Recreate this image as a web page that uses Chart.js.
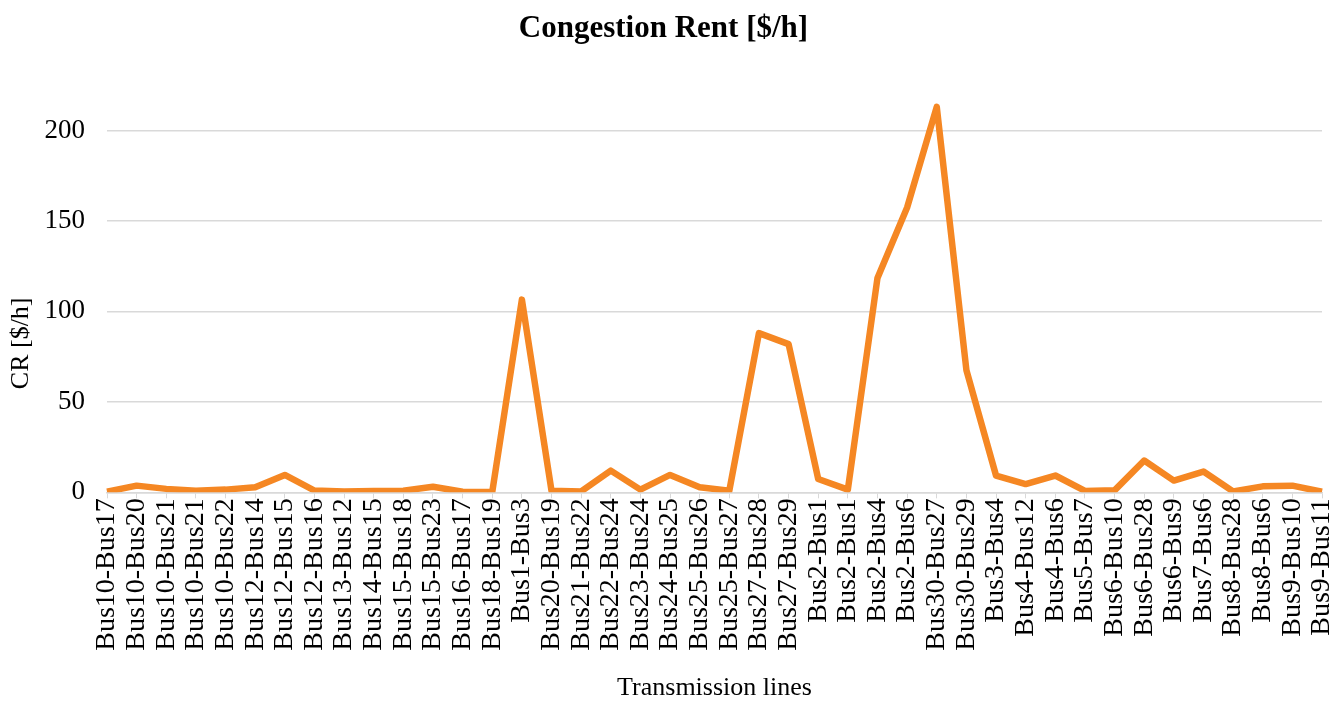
<!DOCTYPE html>
<html>
<head>
<meta charset="utf-8">
<script src="https://cdn.jsdelivr.net/npm/chart.js@4"></script>
<style>
  html, body { margin: 0; padding: 0; background: #fff; }
  #wrap { width: 1343px; height: 704px; }
</style>
</head>
<body>
<div id="wrap"><canvas id="crChart" width="1343" height="704"></canvas></div>
<script>
const LINES = [
  'Bus10-Bus17', 'Bus10-Bus20', 'Bus10-Bus21', 'Bus10-Bus21', 'Bus10-Bus22', 'Bus12-Bus14',
  'Bus12-Bus15', 'Bus12-Bus16', 'Bus13-Bus12', 'Bus14-Bus15', 'Bus15-Bus18', 'Bus15-Bus23',
  'Bus16-Bus17', 'Bus18-Bus19', 'Bus1-Bus3', 'Bus20-Bus19', 'Bus21-Bus22', 'Bus22-Bus24',
  'Bus23-Bus24', 'Bus24-Bus25', 'Bus25-Bus26', 'Bus25-Bus27', 'Bus27-Bus28', 'Bus27-Bus29',
  'Bus2-Bus1', 'Bus2-Bus1', 'Bus2-Bus4', 'Bus2-Bus6', 'Bus30-Bus27', 'Bus30-Bus29',
  'Bus3-Bus4', 'Bus4-Bus12', 'Bus4-Bus6', 'Bus5-Bus7', 'Bus6-Bus10', 'Bus6-Bus28',
  'Bus6-Bus9', 'Bus7-Bus6', 'Bus8-Bus28', 'Bus8-Bus6', 'Bus9-Bus10', 'Bus9-Bus11'
];
const CR = [
  0.4, 3.7, 1.9, 0.9, 1.5, 2.8,
  9.6, 1.0, 0.5, 0.8, 0.9, 3.1,
  0.3, 0.2, 106.5, 0.9, 0.5, 12.0,
  1.5, 9.6, 2.8, 0.9, 88.0, 81.9,
  7.4, 1.5, 118.5, 157.4, 213, 67.6,
  9.3, 4.6, 9.3, 0.8, 1.1, 17.6,
  6.5, 11.5, 0.5, 3.3, 3.7, 0.3
];
const Y_TICKS = [0, 50, 100, 150, 200];

const SERIF = "'Liberation Serif', 'Times New Roman', serif";

// y title sits a bit below the middle of the axis in the original, draw it by hand
const yTitlePlugin = {
  id: 'yTitle',
  afterDraw(chart) {
    const c = chart.ctx;
    const area = chart.chartArea;
    c.save();
    c.translate(21, area.bottom - 149);
    c.rotate(-Math.PI / 2);
    c.font = `26px ${SERIF}`;
    c.fillStyle = '#000';
    c.textAlign = 'center';
    c.textBaseline = 'middle';
    c.fillText('CR [$/h]', 0, 0);
    c.restore();
  }
};

const ctx = document.getElementById('crChart').getContext('2d');
new Chart(ctx, {
  type: 'line',
  data: {
    labels: LINES,
    datasets: [{
      label: 'CR',
      data: CR,
      borderColor: '#F58723',
      borderWidth: 6.5,
      pointRadius: 0,
      tension: 0,
      fill: false,
      borderJoinStyle: 'round'
    }]
  },
  plugins: [yTitlePlugin],
  options: {
    responsive: false,
    animation: false,
    layout: { padding: { left: 5, right: 21, top: 6, bottom: 0 } },
    plugins: {
      legend: { display: false },
      tooltip: { enabled: false },
      title: {
        display: true,
        text: 'Congestion Rent [$/h]',
        color: '#000',
        font: { family: SERIF, size: 31, weight: 'bold' },
        padding: { top: 4, bottom: 38 }
      }
    },
    scales: {
      x: {
        offset: false,
        // rotated labels would otherwise push the plot area inwards
        afterFit: axis => {
          axis.paddingLeft = 0;
          axis.paddingRight = 0;
        },
        grid: {
          drawOnChartArea: false,
          drawTicks: true,
          tickLength: 6,
          color: '#d9d9d9'
        },
        border: { color: '#d9d9d9', width: 1.5 },
        ticks: {
          autoSkip: false,
          minRotation: 90,
          maxRotation: 90,
          color: '#000',
          padding: 0,
          font: { family: SERIF, size: 28 }
        },
        title: {
          display: true,
          text: 'Transmission lines',
          color: '#000',
          font: { family: SERIF, size: 26 },
          padding: { top: 22, bottom: 0 }
        }
      },
      y: {
        min: 0,
        max: 225,
        afterBuildTicks: axis => {
          axis.ticks = Y_TICKS.map(v => ({ value: v }));
        },
        afterFit: axis => {
          axis.width = 102;
        },
        grid: {
          color: '#d9d9d9',
          lineWidth: 1.5,
          drawTicks: false
        },
        border: { display: false },
        ticks: {
          color: '#000',
          padding: 22,
          font: { family: SERIF, size: 27 }
        },
        title: { display: false }
      }
    }
  }
});
</script>
</body>
</html>
